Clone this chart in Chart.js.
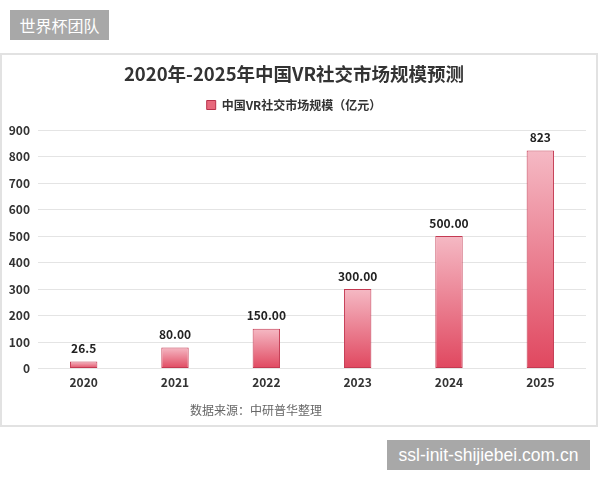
<!DOCTYPE html>
<html>
<head>
<meta charset="utf-8">
<script src="https://cdn.jsdelivr.net/npm/chart.js@4"></script>
<style>
  body { margin: 0; background: #fff; }
  #wrap { position: relative; width: 600px; height: 480px; overflow: hidden; }
  .tag { position: absolute; background: #a8a8a8; color: #fff; font-family: "Liberation Sans", "Noto Sans CJK SC", sans-serif; }
  #tag1 { left: 10px; top: 10px; width: 99px; height: 30px; line-height: 30px; font-size: 16px; text-align: center; font-family: "Noto Sans CJK SC", sans-serif; }
  #tag2 { left: 387px; top: 440px; width: 203px; height: 30px; line-height: 30px; font-size: 17.5px; text-align: center; }
  #frame { position: absolute; left: 0px; top: 53px; width: 594px; height: 370px; border: 2px solid #e2e2e2; }
  #myChart { position: absolute; left: 0; top: 0; }
</style>
</head>
<body>
<div id="wrap">
  <div class="tag" id="tag1">世界杯团队</div>
  <div id="frame"></div>
  <canvas id="myChart" width="600" height="480"></canvas>
  <div class="tag" id="tag2">ssl-init-shijiebei.com.cn</div>
</div>
<script>
const years = ['2020', '2021', '2022', '2023', '2024', '2025'];
const marketSize = [26.5, 80, 150, 300, 500, 823];
const valueLabels = ['26.5', '80.00', '150.00', '300.00', '500.00', '823'];
const seriesName = '中国VR社交市场规模（亿元）';
const chartTitle = '2020年-2025年中国VR社交市场规模预测';
const sourceNote = '数据来源：中研普华整理';

const fontFamily = "'Noto Sans CJK SC', 'Noto Sans', sans-serif";

// bar fill: light pink on top fading to deeper red at the base
function barGradient(c) {
  const chart = c.chart;
  if (!chart.chartArea || c.type !== 'data') return '#e8687c';
  const y = chart.scales.y;
  const top = y.getPixelForValue(c.raw);
  const bot = y.getPixelForValue(0);
  const g = chart.ctx.createLinearGradient(0, top, 0, bot);
  g.addColorStop(0, '#f5b9c4');
  g.addColorStop(1, '#e0475f');
  return g;
}

const labelPlugin = {
  id: 'valueLabels',
  afterDatasetsDraw(chart) {
    const ctx = chart.ctx;
    const meta = chart.getDatasetMeta(0);
    ctx.save();
    ctx.font = 'bold 12px ' + fontFamily;
    ctx.fillStyle = '#222';
    ctx.textAlign = 'center';
    ctx.textBaseline = 'middle';
    meta.data.forEach((bar, i) => {
      ctx.fillText(valueLabels[i], bar.x, bar.y - 13);
    });
    ctx.restore();
  },
  afterDraw(chart) {
    const ctx = chart.ctx;
    ctx.save();
    ctx.font = '12px ' + fontFamily;
    ctx.fillStyle = '#666';
    ctx.textAlign = 'center';
    ctx.textBaseline = 'middle';
    ctx.fillText(sourceNote, 256, 410);
    ctx.restore();
  }
};

const ctx = document.getElementById('myChart');
new Chart(ctx, {
  type: 'bar',
  data: {
    labels: years,
    datasets: [{
      label: seriesName,
      data: marketSize,
      backgroundColor: barGradient,
      borderColor: '#c43a52',
      borderWidth: 1,
      borderSkipped: false,
      barPercentage: 0.3,
      categoryPercentage: 1
    }]
  },
  options: {
    responsive: false,
    animation: false,
    layout: { padding: { left: 2, right: 14, top: 0, bottom: 83 } },
    plugins: {
      title: {
        display: true,
        text: chartTitle,
        color: '#333',
        font: { family: fontFamily, size: 18.5, weight: 'bold' },
        padding: { top: 63, bottom: 3.8 }
      },
      legend: {
        display: true,
        labels: {
          boxWidth: 9,
          boxHeight: 9,
          padding: 10,
          color: '#333',
          font: { family: fontFamily, size: 12, weight: 'bold' },
          generateLabels(chart) {
            return Chart.defaults.plugins.legend.labels.generateLabels(chart).map(l => {
              l.fillStyle = '#e8687c';
              l.strokeStyle = '#b8304a';
              l.lineWidth = 1;
              return l;
            });
          }
        }
      },
      tooltip: { enabled: false }
    },
    scales: {
      y: {
        min: 0,
        max: 900,
        ticks: {
          stepSize: 100,
          padding: 8,
          color: '#333',
          font: { family: fontFamily, size: 12, weight: 'bold' }
        },
        grid: { color: '#e4e4e4', drawTicks: false },
        border: { display: false },
        afterFit(s) { s.width = 36; }
      },
      x: {
        ticks: {
          padding: 7,
          color: '#333',
          font: { family: fontFamily, size: 12, weight: 'bold' }
        },
        grid: { display: false, drawTicks: false },
        border: { display: false }
      },
      // empty spacer between the legend and the plot
      xTop: {
        type: 'category',
        position: 'top',
        grid: { display: false },
        border: { display: false },
        ticks: { display: false },
        afterFit(s) { s.height = 9; }
      }
    }
  },
  plugins: [labelPlugin]
});
</script>
</body>
</html>
